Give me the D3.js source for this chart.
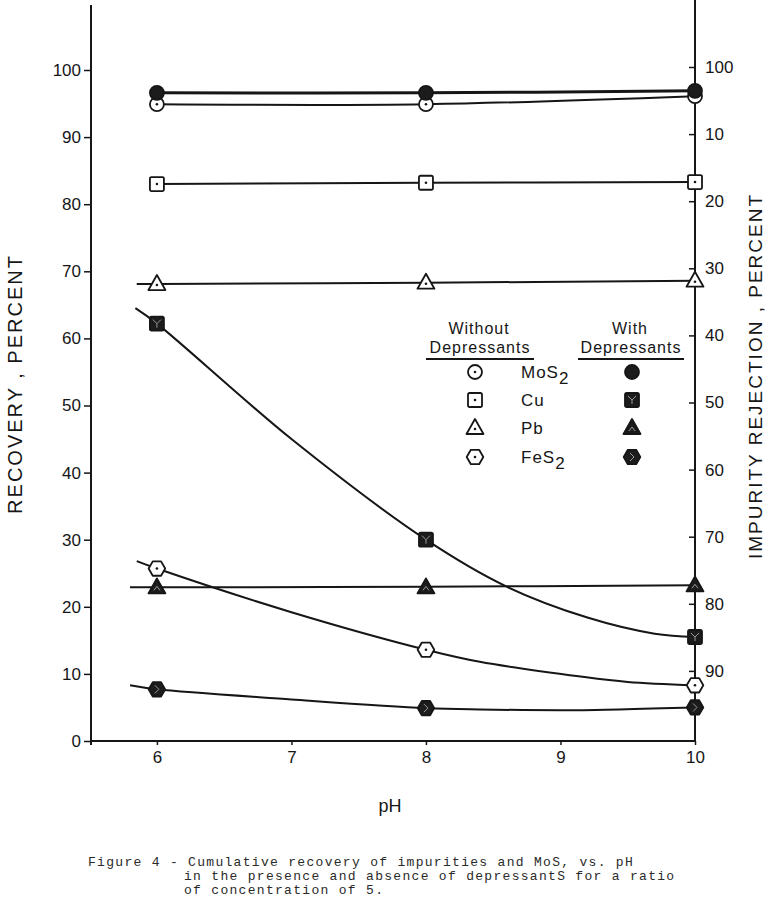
<!DOCTYPE html>
<html><head><meta charset="utf-8">
<script src="https://cdn.jsdelivr.net/npm/d3@7"></script>
<style>body{margin:0;background:#fff}svg{display:block}</style>
</head><body>
<svg id="c" width="770" height="914"></svg>
<script>
// ---- data ----
const pH = [6, 8, 10];
const mos2Without = [94.9, 94.9, 96.1];
const mos2With = [96.6, 96.6, 96.9];
const cuWithout = [83.0, 83.2, 83.3];
const cuWith = [62.2, 30.0, 15.5];
const pbWithout = [68.1, 68.3, 68.6];
const pbWith = [22.9, 22.9, 23.2];
const fes2Without = [25.7, 13.6, 8.3];
const fes2With = [7.7, 4.9, 5.0];

// hand-drawn fitted curves (pH, recovery)
const mos2WithoutFitPH = [6, 8, 10], mos2WithoutFit = [94.9, 94.9, 96.1];
const mos2WithFitPH = [6, 8, 10], mos2WithFit = [96.6, 96.6, 96.9];
const cuWithoutFitPH = [6, 8, 10], cuWithoutFit = [83.0, 83.2, 83.3];
const pbWithoutFitPH = [5.85, 6, 8, 10], pbWithoutFit = [68.1, 68.1, 68.3, 68.6];
const pbWithFitPH = [5.8, 6, 8, 10], pbWithFit = [22.9, 22.9, 23.0, 23.2];
const cuWithFitPH = [5.84, 6, 7, 8, 8.6, 9.2, 9.7, 10];
const cuWithFit = [64.5, 62.2, 45.0, 30.0, 23.0, 18.4, 16.0, 15.5];
const fes2WithoutFitPH = [5.85, 6, 7, 8, 8.4, 9.15, 9.5, 10];
const fes2WithoutFit = [26.8, 25.7, 19.2, 13.6, 11.8, 9.6, 8.8, 8.3];
const fes2WithFitPH = [5.8, 6, 7, 8, 8.4, 9.15, 10];
const fes2WithFit = [8.3, 7.7, 6.2, 4.9, 4.7, 4.6, 5.0];

const xTicks = [6, 7, 8, 9, 10];
const xTickLabels = ["6", "7", "8", "9", "10"];
const yTicks = [0, 10, 20, 30, 40, 50, 60, 70, 80, 90, 100];
const yTickLabels = ["0", "10", "20", "30", "40", "50", "60", "70", "80", "90", "100"];
const rTicks = [0, 10, 20, 30, 40, 50, 60, 70, 80, 90];
const rTickLabels = ["100", "10", "20", "30", "40", "50", "60", "70", "80", "90"];

const legendNames = ["MoS", "Cu", "Pb", "FeS"];
const legendSubs = ["2", "", "", "2"];

// ---- drawing ----
const svg = d3.select("#c");
const ink = "#161616";
const FONT = "'Liberation Sans', Arial, sans-serif";

const x = d3.scaleLinear().domain([5.51, 10]).range([91, 695]);
const y = d3.scaleLinear().domain([0, 100]).range([741, 70]);
const yR = d3.scaleLinear().domain([0, 100]).range([67, 738]);

// axes lines
svg.append("line").attr("x1", 91).attr("x2", 91).attr("y1", 5).attr("y2", 745)
  .attr("stroke", ink).attr("stroke-width", 2);
svg.append("line").attr("x1", 695).attr("x2", 695).attr("y1", 0).attr("y2", 742)
  .attr("stroke", ink).attr("stroke-width", 2);

// left axis
const gL = svg.append("g").attr("transform", "translate(91,0)")
  .call(d3.axisLeft(y).tickValues(yTicks).tickSize(7).tickPadding(3)
    .tickFormat((d, i) => yTickLabels[i]));
// right axis
const gR = svg.append("g").attr("transform", "translate(695,0)")
  .call(d3.axisRight(yR).tickValues(rTicks).tickSize(-6).tickPadding(10)
    .tickFormat((d, i) => rTickLabels[i]));
// bottom axis
const gB = svg.append("g").attr("transform", "translate(0,741)")
  .call(d3.axisBottom(x).tickValues(xTicks).tickSize(4).tickPadding(6)
    .tickFormat((d, i) => xTickLabels[i]));
[gL, gR, gB].forEach(g => {
  g.select(".domain").remove();
  g.selectAll("line").attr("stroke", ink).attr("stroke-width", 1.5);
  g.selectAll("text").attr("fill", ink).style("font-family", FONT).style("font-size", "17px");
});
svg.append("line").attr("x1", 91).attr("x2", 695).attr("y1", 741).attr("y2", 741)
  .attr("stroke", ink).attr("stroke-width", 2);
gR.selectAll("text").attr("dy", "0.32em");

// axis titles
svg.append("text").attr("transform", "translate(22,384) rotate(-90)")
  .attr("text-anchor", "middle").attr("fill", ink)
  .style("font-family", FONT).style("font-size", "20px").style("letter-spacing", "2px")
  .text("RECOVERY , PERCENT");
svg.append("text").attr("transform", "translate(762,376) rotate(-90)")
  .attr("text-anchor", "middle").attr("fill", ink)
  .style("font-family", FONT).style("font-size", "19px").style("letter-spacing", "2px")
  .text("IMPURITY REJECTION , PERCENT");
svg.append("text").attr("x", 390).attr("y", 812).attr("text-anchor", "middle").attr("fill", ink)
  .style("font-family", FONT).style("font-size", "18px").text("pH");

// curves
const line = d3.line().x(d => x(d[0])).y(d => y(d[1])).curve(d3.curveCatmullRom.alpha(0.5));
const fits = [
  [mos2WithFitPH, mos2WithFit, 3],
  [mos2WithoutFitPH, mos2WithoutFit, 2],
  [cuWithoutFitPH, cuWithoutFit, 2],
  [pbWithoutFitPH, pbWithoutFit, 2],
  [pbWithFitPH, pbWithFit, 2],
  [cuWithFitPH, cuWithFit, 2],
  [fes2WithoutFitPH, fes2WithoutFit, 2],
  [fes2WithFitPH, fes2WithFit, 2]
];
fits.forEach(([px, py, w]) => {
  svg.append("path").datum(px.map((p, i) => [p, py[i]]))
    .attr("d", line).attr("fill", "none").attr("stroke", ink).attr("stroke-width", w);
});

// marker shapes
function hexPath(r) {
  return d3.range(6).map(k => {
    const a = Math.PI / 3 * k;
    return [r * Math.cos(a), r * Math.sin(a)];
  }).map((p, i) => (i ? "L" : "M") + p[0].toFixed(2) + "," + p[1].toFixed(2)).join("") + "Z";
}
function drawMarker(g, shape, filled) {
  const fill = filled ? "#1c1c1c" : "#fff";
  if (shape === "circle") g.append("circle").attr("r", 7);
  else if (shape === "square") g.append("rect").attr("x", -7).attr("y", -7).attr("width", 14).attr("height", 14).attr("rx", 1.5);
  else if (shape === "triangle") g.append("path").attr("d", "M0,-9L8.5,6L-8.5,6Z");
  else g.append("path").attr("d", hexPath(8.3));
  g.selectAll("*").attr("fill", fill).attr("stroke", ink).attr("stroke-width", 1.8).attr("stroke-linejoin", "round");
  if (!filled) {
    g.append("circle").attr("r", 1.3).attr("cy", shape === "triangle" ? 1 : 0).attr("fill", ink);
  } else if (shape !== "circle") {
    const tex = {
      square: "M-4,-4L0,0L4,-4M0,0L0,4",
      triangle: "M-3,3L0,-1L3,3",
      hexagon: "M-2,-4L2,0L-2,4"
    }[shape];
    g.append("path").attr("d", tex).attr("fill", "none").attr("stroke", "#9a9a9a").attr("stroke-width", 1);
  }
}

const series = [
  [mos2Without, "circle", false],
  [cuWithout, "square", false],
  [pbWithout, "triangle", false],
  [fes2Without, "hexagon", false],
  [mos2With, "circle", true],
  [cuWith, "square", true],
  [pbWith, "triangle", true],
  [fes2With, "hexagon", true]
];
series.forEach(([vals, shape, filled]) => {
  vals.forEach((v, i) => {
    const g = svg.append("g").attr("transform", `translate(${x(pH[i])},${y(v)})`);
    drawMarker(g, shape, filled);
  });
});

// legend
const lg = svg.append("g");
const headStyle = t => t.attr("text-anchor", "middle").attr("fill", ink)
  .style("font-family", FONT).style("font-size", "16px").style("letter-spacing", "1px");
headStyle(lg.append("text").attr("x", 479).attr("y", 334).text("Without"));
headStyle(lg.append("text").attr("x", 480).attr("y", 353).text("Depressants"));
headStyle(lg.append("text").attr("x", 630).attr("y", 334).text("With"));
headStyle(lg.append("text").attr("x", 631).attr("y", 353).text("Depressants"));
lg.append("line").attr("x1", 426).attr("x2", 534).attr("y1", 359).attr("y2", 359).attr("stroke", ink).attr("stroke-width", 2);
lg.append("line").attr("x1", 578).attr("x2", 684).attr("y1", 359).attr("y2", 359).attr("stroke", ink).attr("stroke-width", 2);
const shapes = ["circle", "square", "triangle", "hexagon"];
const rowsY = [372, 400, 428, 457];
legendNames.forEach((nm, i) => {
  drawMarker(lg.append("g").attr("transform", `translate(475,${rowsY[i]})`), shapes[i], false);
  drawMarker(lg.append("g").attr("transform", `translate(632,${rowsY[i]})`), shapes[i], true);
  const t = lg.append("text").attr("x", 521).attr("y", rowsY[i] + 6).attr("fill", ink)
    .style("font-family", FONT).style("font-size", "17px").style("letter-spacing", "1px").text(nm);
  if (legendSubs[i]) t.append("tspan").attr("dy", 6).style("font-size", "17px").text(legendSubs[i]);
});

// caption
const cap = svg.append("g").attr("fill", "#2a2a2a")
  .style("font-family", "'Liberation Mono', 'Courier New', monospace").style("font-size", "13px")
  .style("letter-spacing", "1.3px");
cap.append("text").attr("x", 88).attr("y", 866)
  .text("Figure 4 - Cumulative recovery of impurities and MoS, vs. pH");
cap.append("text").attr("x", 184).attr("y", 880)
  .text("in the presence and absence of depressantS for a ratio");
cap.append("text").attr("x", 184).attr("y", 894)
  .text("of concentration of 5.");
</script>
</body></html>
